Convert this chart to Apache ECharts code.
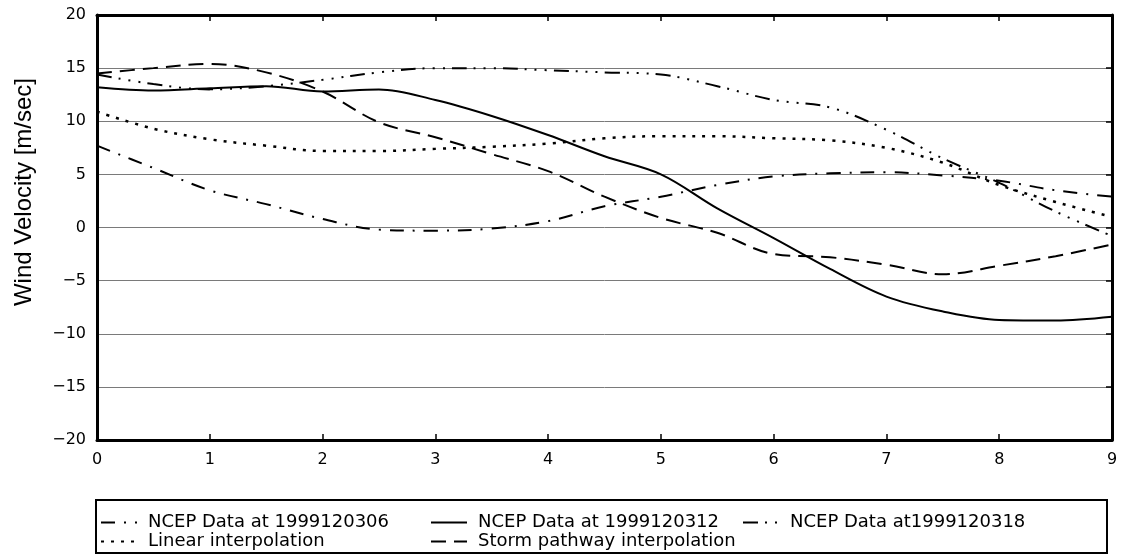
<!DOCTYPE html>
<html>
<head>
<meta charset="utf-8">
<script src="https://cdn.jsdelivr.net/npm/echarts@6/dist/echarts.min.js"></script>
<style>html,body{margin:0;padding:0;background:#fff;}#chart{width:1125px;height:559px;}</style>
</head>
<body>
<div id="chart"></div>
<script>
var xs = [0,0.5,1,1.5,2,2.5,3,3.5,4,4.5,5,5.5,6,6.5,7,7.5,8,8.5,9];
var ncep06 = [7.7,5.6,3.5,2.2,0.8,-0.2,-0.3,-0.1,0.6,2.0,2.9,4.0,4.8,5.1,5.2,4.9,4.4,3.5,2.9];
var ncep12 = [13.2,12.9,13.1,13.3,12.8,13.0,12.0,10.5,8.7,6.7,5.0,1.8,-1.0,-3.9,-6.5,-7.9,-8.7,-8.75,-8.4];
var ncep18 = [14.4,13.5,13.0,13.3,13.9,14.6,15.0,15.0,14.8,14.6,14.4,13.3,12.0,11.3,9.2,6.5,4.2,1.5,-0.8];
var linear = [10.9,9.3,8.3,7.7,7.2,7.2,7.4,7.6,7.9,8.4,8.6,8.6,8.4,8.2,7.5,6.1,4.0,2.4,1.0];
var storm = [14.5,15.0,15.4,14.6,12.8,9.9,8.5,6.9,5.3,2.9,0.9,-0.5,-2.5,-2.8,-3.5,-4.4,-3.6,-2.7,-1.6];
var xTicks = [0,1,2,3,4,5,6,7,8,9];
var yTicks = [-20,-15,-10,-5,0,5,10,15,20];
var names = ['NCEP Data at 1999120306','NCEP Data at 1999120312','NCEP Data at1999120318','Linear interpolation','Storm pathway interpolation'];
var yLabel = 'Wind Velocity [m/sec]';

function pairs(arr){ return xs.map(function(x,i){ return [x, arr[i]]; }); }
var font = 'DejaVu Sans';
function mkSeries(name, data, dash, w){
  return {
    name: name, type: 'line', data: pairs(data), smooth: 0.35, showSymbol: false, symbol: 'none',
    xAxisIndex: 0, yAxisIndex: 0,
    lineStyle: {color: '#000', width: w || 2, type: dash}, itemStyle: {color: '#000'},
    animation: false
  };
}
var chart = echarts.init(document.getElementById('chart'));
var legendCommon = {
  orient: 'vertical', itemWidth: 36, itemHeight: 14, itemGap: 0, top: 513, height: 44, padding: 0,
  itemStyle: {color: 'rgba(0,0,0,0)', borderWidth: 0, opacity: 0},
  textStyle: {fontFamily: font, fontSize: 18, lineHeight: 19, color: '#000', padding: [0,0,0,6]},
  selectedMode: false
};
chart.setOption({
  animation: false,
  grid: {left: 97, right: 13, top: 15, bottom: 119, show: false},
  xAxis: [{
    type: 'value', min: 0, max: 9, interval: 1, position: 'bottom',
    axisLine: {show: true, onZero: false, lineStyle: {color: '#000', width: 3}},
    axisTick: {show: true, inside: true, length: 6, lineStyle: {color: '#000', width: 1.5}},
    axisLabel: {fontFamily: font, fontSize: 16, color: '#000', margin: 12,
      formatter: function(v){ return xTicks.indexOf(v) >= 0 ? String(v) : ''; }},
    splitLine: {show: false}
  },{
    type: 'value', min: 0, max: 9, interval: 1, position: 'top',
    axisLine: {show: true, onZero: false, lineStyle: {color: '#000', width: 3}},
    axisTick: {show: true, inside: true, length: 6, lineStyle: {color: '#000', width: 1.5}},
    axisLabel: {show: false}, splitLine: {show: false}
  }],
  yAxis: [{
    type: 'value', min: -20, max: 20, interval: 5, position: 'left',
    axisLine: {show: true, onZero: false, lineStyle: {color: '#000', width: 3}},
    axisTick: {show: false},
    axisLabel: {fontFamily: font, fontSize: 16, color: '#000', margin: 11,
      formatter: function(v){ return yTicks.indexOf(v) >= 0 ? String(v).replace('-', '\u2212') : ''; }},
    splitLine: {show: true, lineStyle: {color: '#7a7a7a', width: 1}}
  },{
    type: 'value', min: -20, max: 20, interval: 5, position: 'right',
    axisLine: {show: true, onZero: false, lineStyle: {color: '#000', width: 3}},
    axisTick: {show: true, inside: true, length: 6, lineStyle: {color: '#000', width: 1.5}},
    axisLabel: {show: false}, splitLine: {show: false}
  }],
  legend: [
    Object.assign({}, legendCommon, {left: 100, data: [names[0], names[3]]}),
    Object.assign({}, legendCommon, {left: 430, data: [names[1], names[4]]}),
    Object.assign({}, legendCommon, {left: 742, data: [names[2]]})
  ],
  graphic: [
    {type: 'rect', shape: {x: 96, y: 500, width: 1011, height: 53}, style: {fill: 'none', stroke: '#000', lineWidth: 2}, silent: true},
    {type: 'text', x: 24, y: 192, rotation: Math.PI/2, style: {text: yLabel, font: '24px "Liberation Sans"', fill: '#000', textAlign: 'center', textVerticalAlign: 'middle'}}
  ],
  series: [
    mkSeries(names[0], ncep06, [14,9,2,9]),
    mkSeries(names[1], ncep12, 'solid'),
    mkSeries(names[2], ncep18, [15,7,2,8,2,8,2,7]),
    mkSeries(names[3], linear, [3,7], 2.5),
    mkSeries(names[4], storm, [15,8])
  ]
});
</script>
</body>
</html>
